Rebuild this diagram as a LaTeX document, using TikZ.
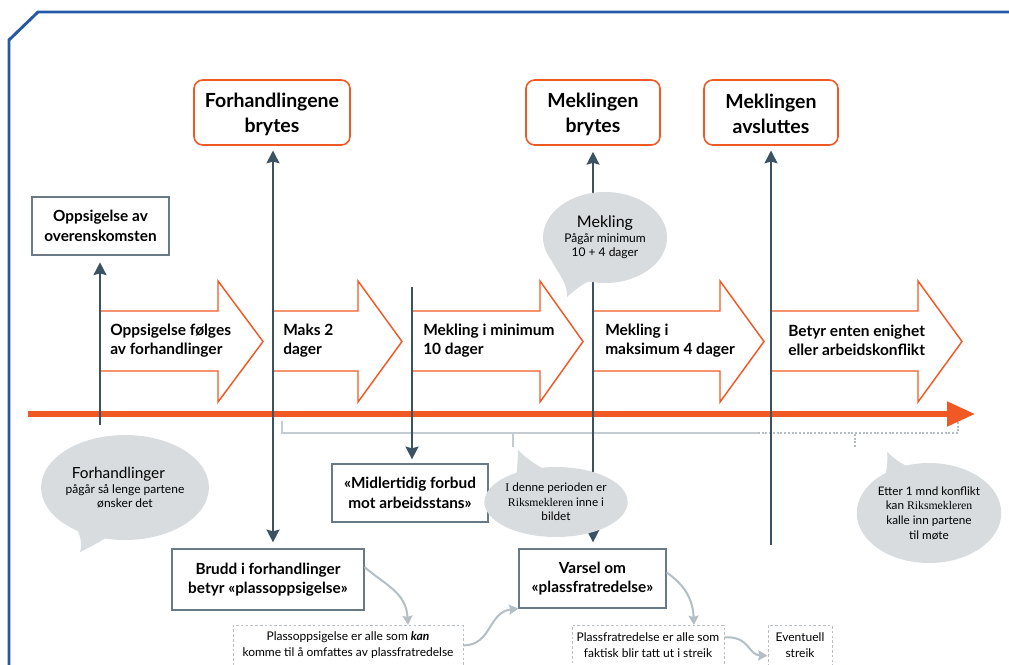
\documentclass[tikz,border=0pt]{standalone}
\usepackage{fontspec}
\setmainfont{Lato}
\newfontfamily\serifp{Liberation Serif}
\usetikzlibrary{arrows.meta,shapes.geometric,calc}
\definecolor{orng}{RGB}{240,88,36}
\definecolor{slate}{RGB}{58,82,98}
\definecolor{boxgray}{RGB}{105,122,134}
\definecolor{bubgray}{RGB}{216,220,223}
\definecolor{brgray}{RGB}{196,204,209}
\definecolor{dotgray}{RGB}{180,189,195}
\definecolor{arrgray}{RGB}{180,190,197}
\definecolor{dashgray}{RGB}{185,192,197}
\definecolor{bordblue}{RGB}{38,88,168}
\newcommand\pxl[1]{#1*0.75pt}
\newcommand\fs[2]{\fontsize{#1}{#2}\selectfont}
\newcommand\blockarr[3]{\draw[barrow] (#1,311) -- (#2,311) -- (#2,281) -- (#3,341.5) -- (#2,402) -- (#2,371) -- (#1,371);}
\begin{document}
\begin{tikzpicture}[x=0.75pt,y=-0.75pt,
  title/.style={draw=orng, line width=1.2pt, rounded corners=6.5pt, fill=white, align=center,
    font=\bfseries\fs{14.6}{18.75}, minimum height=\pxl{65}, inner sep=0pt},
  gbox/.style={draw=boxgray, line width=0.9pt, fill=white, align=center,
    font=\bfseries\fs{11.5}{14.5}, inner sep=0pt},
  dbox/.style={draw=dashgray, line width=0.7pt, dash pattern=on 2pt off 1.6pt, align=center,
    font=\fs{9}{12}, inner sep=0pt, anchor=north, minimum height=\pxl{40}},
  bubble/.style={ellipse, fill=bubgray, inner sep=0pt, align=center},
  atext/.style={anchor=west, align=left, font=\bfseries\fs{11.6}{14.5}, inner sep=0pt},
  barrow/.style={draw=orng, line width=1.1pt, line join=miter},
  vline/.style={draw=slate, line width=2.2pt},
  vtip/.tip={Stealth[length=9.5pt,width=9.5pt,inset=1.2pt]},
  garrow/.style={draw=arrgray, line width=1.5pt, -{Stealth[length=7pt,width=7.5pt,inset=1pt]}},
  brack/.style={draw=brgray, line width=2.2pt},
  dotb/.style={draw=dotgray, line width=2.2pt, dash pattern=on 1.5pt off 1.3pt}
]
\useasboundingbox (0,0) rectangle (1009,664);
\clip (0,0) rectangle (1009,664);

% border
\draw[bordblue, line width=2.2pt] (9,690) -- (9,40) -- (38,12) -- (1030,12);

% block arrows
\blockarr{101}{218}{263}
\blockarr{274}{358}{402}
\blockarr{413}{540}{583}
\blockarr{594}{720}{764}
\blockarr{772}{918}{962}

\node[atext] (a1) at (110,340.5) {Oppsigelse følges\\av forhandlinger};
\node[atext] (a2) at (283,340.5) {Maks 2\\dager};
\node[atext] (a3) at (423,340.5) {Mekling i minimum\\10 dager};
\node[atext] (a4) at (605,340.5) {Mekling i\\maksimum 4 dager};
\node[atext] (a5) at (788,340.5) {Betyr enten enighet\\eller arbeidskonflikt};

% timeline
\coordinate (tl0) at (28,414);
\coordinate (tl1) at (975,414);
\draw[orng, line width=3.8pt, -{Triangle[length=21pt,width=18pt]}] (tl0) -- (tl1);

% bracket
\draw[brack] (282,421) -- (282,433) -- (758,433);
\draw[brack] (513,433) -- (513,447);
\draw[dotb] (758,433) -- (958,433) -- (958,421);
\draw[dotb] (855,434) -- (855,448);

% boxes
\node[gbox, minimum width=\pxl{137}, minimum height=\pxl{58}] (opp) at (100.5,226) {Oppsigelse av\\overenskomsten};
\node[title, minimum width=\pxl{156}] (forh) at (272,112.5) {\rule{0pt}{13pt}Forhandlingene\\brytes};
\node[title, minimum width=\pxl{134}] (mbryt) at (593,112.5) {\rule{0pt}{13pt}Meklingen\\brytes};
\node[title, minimum width=\pxl{134}] (mavsl) at (771,112.5) {\rule{0pt}{13pt}Meklingen\\avsluttes};
\node[gbox, minimum width=\pxl{156}, minimum height=\pxl{58}] (midl) at (410,493) {«Midlertidig forbud\\mot arbeidsstans»};
\node[gbox, minimum width=\pxl{192}, minimum height=\pxl{61}] (brudd) at (268,579.5) {Brudd i forhandlinger\\betyr «plassoppsigelse»};
\node[gbox, minimum width=\pxl{147}, minimum height=\pxl{59}] (varsel) at (592.5,578.5) {Varsel om\\«plassfratredelse»};

% vertical lines
\coordinate (l1b) at (100,425);
\coordinate (x2) at (273,0);
\coordinate (l3t) at (412,287);
\coordinate (x4) at (593,0);
\coordinate (l5b) at (771,545);
\draw[vline, -{vtip}, shorten >=5pt] (l1b) -- (opp.south -| l1b);
\draw[vline, {vtip}-{vtip}, shorten <=3.5pt, shorten >=4.5pt] (forh.south -| x2) -- (brudd.north -| x2);
\draw[vline, -{vtip}, shorten >=3pt] (l3t) -- (midl.north -| l3t);
\draw[vline, {vtip}-{vtip}, shorten <=4.5pt, shorten >=4.5pt] (mbryt.south -| x4) -- (varsel.north -| x4);
\draw[vline, {vtip}-, shorten <=3.5pt] (mavsl.south) -- (l5b);

% bubbles
\node[bubble, minimum width=\pxl{136}, minimum height=\pxl{105}, font=\fs{9}{10.5}] (bforh) at (125,487.5)
  {{\fs{11.5}{13}Forhandlinger\hspace*{10pt}}\\[1pt]pågår så lenge partene\\ønsker det};
\fill[bubgray] (68,512) .. controls (80,532) and (83,542) .. (80,552) .. controls (92,546) and (104,540) .. (114,532) -- cycle;

\node[bubble, minimum width=\pxl{124}, minimum height=\pxl{91}, font=\fs{9}{10.5}] (bmek) at (605,237.5)
  {{\fs{12}{13}Mekling}\\[1pt]Pågår minimum\\10 + 4 dager};
\fill[bubgray] (552,262) .. controls (560,275) and (568,285) .. (567,297) .. controls (575,290) and (582,284) .. (590,281) -- cycle;

\node[bubble, minimum width=\pxl{112}, minimum height=\pxl{70}, font=\fs{8.8}{11}] (bper) at (556,502)
  {{\serifp I} denne perioden er\\{\serifp Riksmekleren} inne i\\bildet};
\fill[bubgray] (516,480) .. controls (517,468) and (518,458) .. (518,450) .. controls (524,456) and (530,461) .. (542,468) -- cycle;

\node[bubble, minimum width=\pxl{132}, minimum height=\pxl{100}, font=\fs{8.8}{11}] (better) at (929,513)
  {Etter 1 mnd konflikt\\kan {\serifp Riksmekleren}\\kalle inn partene\\til møte};
\fill[bubgray] (884,480) .. controls (887,470) and (888,460) .. (887,452) .. controls (894,458) and (900,464) .. (912,468) -- cycle;

% dashed boxes
\node[dbox, minimum width=\pxl{230}] (dash1) at (348,625) {Plassoppsigelse er alle som \textbf{\textit{kan}}\\komme til å omfattes av plassfratredelse};
\node[dbox, minimum width=\pxl{152}] (dash2) at (648,625) {Plassfratredelse er alle som\\faktisk blir tatt ut i streik};
\node[dbox, minimum width=\pxl{64}] (ev) at (800,625) {Eventuell\\streik};

% gray curved arrows
\draw[garrow] ($(brudd.north east)!0.3!(brudd.south east)$) .. controls (385,585) and (406,592) .. ($(dash1.north west)!0.76!(dash1.north east)$);
\draw[garrow] (dash1.east) .. controls (492,645) and (488,612) .. (varsel.south west);
\draw[garrow] ($(varsel.north east)!0.4!(varsel.south east)$) .. controls (685,585) and (693,600) .. ($(dash2.north west)!0.8!(dash2.north east)$);
\draw[garrow] ($(dash2.north east)!0.3!(dash2.south east)$) .. controls (750,636) and (748,655) .. ($(ev.north west)!0.75!(ev.south west)$);
\end{tikzpicture}
\end{document}
